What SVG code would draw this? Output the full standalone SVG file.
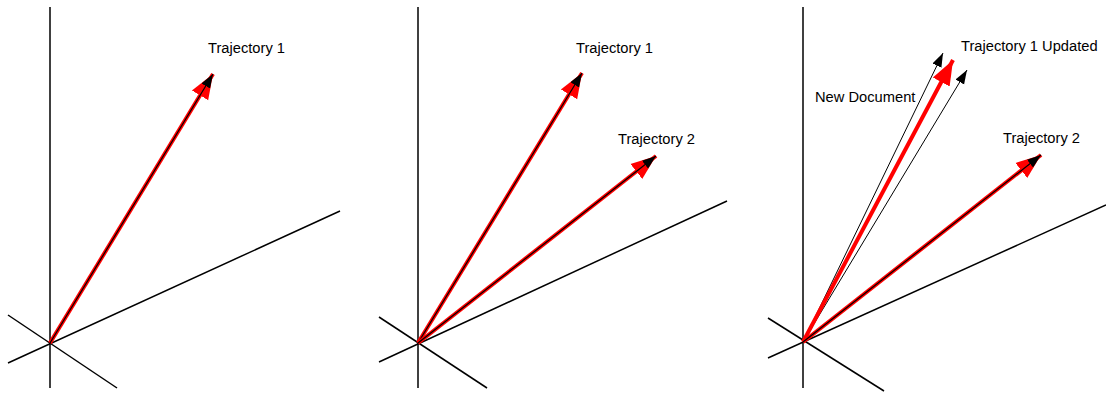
<svg xmlns="http://www.w3.org/2000/svg" width="1106" height="396" viewBox="0 0 1106 396">
<style>
.ax{stroke:#000;stroke-width:1.5;fill:none}
.red{stroke:#ff0000;stroke-width:4;fill:none;marker-end:url(#rh)}
.core{stroke:#000;stroke-width:1.2;fill:none;marker-end:url(#bh)}
.thin{stroke:#000;stroke-width:1;fill:none;marker-end:url(#bh)}
text{font-family:"Liberation Sans",Arial,sans-serif;font-size:14.7px;fill:#000}
</style>
<defs>
<marker id="rh" markerUnits="userSpaceOnUse" markerWidth="26" markerHeight="22" viewBox="0 0 26 22" refX="25" refY="11" orient="auto"><path d="M0,1.5 L25,11 L0,20.5 z" fill="#ff0000"/></marker>
<marker id="bh" markerUnits="userSpaceOnUse" markerWidth="15" markerHeight="11" viewBox="0 0 15 11" refX="14" refY="5.5" orient="auto"><path d="M0,0.5 L14,5.5 L0,10.5 z" fill="#000"/></marker>
</defs>
<g id="axes">
<line class="ax" x1="50" y1="7" x2="50" y2="388"/>
<line class="ax" x1="8" y1="315" x2="117" y2="388"/>
<line class="ax" x1="8" y1="363" x2="340" y2="211"/>
<line class="ax" x1="418" y1="7" x2="418" y2="388"/>
<line class="ax" x1="379" y1="317" x2="487" y2="388"/>
<line class="ax" x1="379" y1="362" x2="727" y2="201"/>
<line class="ax" x1="803" y1="7" x2="803" y2="388"/>
<line class="ax" x1="768" y1="318" x2="884" y2="391"/>
<line class="ax" x1="768" y1="358" x2="1106" y2="205"/>
</g>
<g id="connectors">
<line class="red" x1="50" y1="343" x2="213" y2="74"/>
<line class="core" x1="50" y1="343" x2="213" y2="74"/>
<line class="red" x1="418" y1="343" x2="582" y2="73"/>
<line class="core" x1="418" y1="343" x2="582" y2="73"/>
<line class="red" x1="418" y1="343" x2="656" y2="156"/>
<line class="core" x1="418" y1="343" x2="656" y2="156"/>
<line class="thin" x1="803" y1="342" x2="943" y2="53"/>
<line class="thin" x1="803" y1="342" x2="967" y2="70"/>
<line class="red" x1="803" y1="342" x2="953" y2="60"/>
<line class="red" x1="803" y1="342" x2="1041" y2="155"/>
<line class="core" x1="803" y1="342" x2="1041" y2="155"/>
</g>
<g id="labels">
<text x="208" y="53">Trajectory 1</text>
<text x="576" y="53">Trajectory 1</text>
<text x="618" y="144">Trajectory 2</text>
<text x="961" y="51">Trajectory 1 Updated</text>
<text x="815" y="102">New Document</text>
<text x="1003" y="143">Trajectory 2</text>
</g>
</svg>
